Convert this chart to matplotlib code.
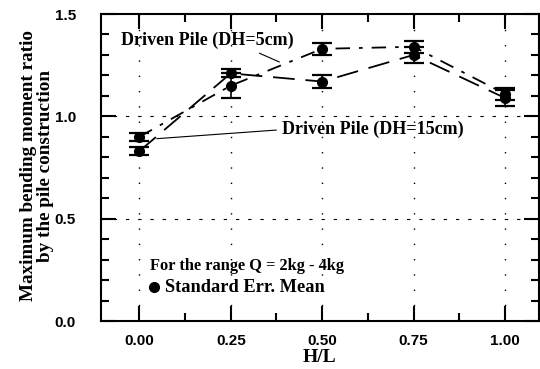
import matplotlib.pyplot as plt
from matplotlib.ticker import MultipleLocator

# mean values and standard errors for each series
hl = [0.0, 0.25, 0.50, 0.75, 1.00]
dh5_mean = [0.90, 1.15, 1.33, 1.34, 1.11]
dh5_err = [0.02, 0.06, 0.03, 0.03, 0.03]
dh15_mean = [0.83, 1.21, 1.17, 1.30, 1.09]
dh15_err = [0.02, 0.02, 0.03, 0.04, 0.04]

serif = 'Liberation Serif'
sans = 'Liberation Sans'

fig = plt.figure(figsize=(5.4, 3.69), dpi=100)
ax = fig.add_axes([0.187, 0.130, 0.811, 0.832])

# grid: dotted verticals, dashed horizontals at 0.5 and 1.0
for x in hl:
    ax.axvline(x, color='black', lw=1.0, ls=(0, (1, 10)), zorder=0)
for y in [0.5, 1.0]:
    ax.axhline(y, color='black', lw=0.8, ls=(0, (3, 8)), zorder=0)

ax.errorbar(hl, dh5_mean, yerr=dh5_err, fmt='o', color='black', ms=7,
            capsize=7, capthick=1.6, elinewidth=1.2,
            ls=(0, (8, 5, 2, 5)), lw=1.3)
ax.errorbar(hl, dh15_mean, yerr=dh15_err, fmt='o', color='black', ms=7,
            capsize=7, capthick=1.6, elinewidth=1.2,
            ls=(0, (12, 6)), lw=1.3)

ax.set_xlim(-0.105, 1.093)
ax.set_ylim(0, 1.5)
ax.set_xticks(hl)
ax.set_xticklabels(['%.2f' % v for v in hl])
ax.set_yticks([0.0, 0.5, 1.0, 1.5])
ax.set_yticklabels(['0.0', '0.5', '1.0', '1.5'])
ax.xaxis.set_minor_locator(MultipleLocator(0.125))
ax.yaxis.set_minor_locator(MultipleLocator(0.1))
ax.tick_params(which='both', direction='in', top=True, right=True, width=1.5)
ax.tick_params(which='major', length=11)
ax.tick_params(which='minor', length=6)
ax.tick_params(axis='x', which='major', pad=9)
ax.tick_params(axis='y', which='major', pad=18)
for lab in ax.get_xticklabels() + ax.get_yticklabels():
    lab.set_fontfamily(sans)
    lab.set_fontweight('bold')
    lab.set_fontsize(11)
for sp in ax.spines.values():
    sp.set_linewidth(1.5)

ax.set_xlabel('H/L', fontfamily=serif, fontweight='bold', fontsize=14, labelpad=1)
ylab = ax.set_ylabel('Maximum bending moment ratio\nby the pile construction',
                     fontfamily=serif, fontweight='bold', fontsize=13.8,
                     linespacing=1.0)
ylab.set_va('center')
ax.yaxis.set_label_coords(-0.145, 0.505)

# series labels with leader lines
ax.annotate('Driven Pile (DH=5cm)', xy=(0.39, 1.26), xytext=(-0.05, 1.37),
            fontfamily=serif, fontweight='bold', fontsize=13, va='center',
            arrowprops=dict(arrowstyle='-', lw=0.8, color='black',
                            relpos=(0.75, 0.0)))
ax.annotate('Driven Pile (DH=15cm)', xy=(0.04, 0.89), xytext=(0.39, 0.935),
            fontfamily=serif, fontweight='bold', fontsize=13, va='center',
            arrowprops=dict(arrowstyle='-', lw=0.8, color='black',
                            relpos=(0.0, 0.5)))

ax.text(0.03, 0.27, 'For the range Q = 2kg - 4kg', fontfamily=serif,
        fontweight='bold', fontsize=11.8, va='center')
ax.plot([0.04], [0.165], 'o', color='black', ms=7)
ax.text(0.07, 0.165, 'Standard Err. Mean', fontfamily=serif,
        fontweight='bold', fontsize=13.2, va='center')

fig.savefig('out.png', dpi=100)
